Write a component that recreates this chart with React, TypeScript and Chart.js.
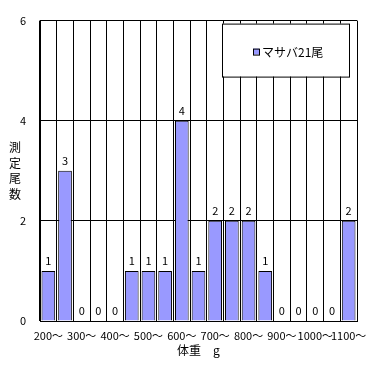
import React, { useEffect, useRef } from 'react';
import { Chart, registerables } from 'chart.js';

Chart.register(...registerables);

const categories = [
  '200～', '250～', '300～', '350～', '400～', '450～', '500～', '550～', '600～', '650～',
  '700～', '750～', '800～', '850～', '900～', '950～', '1000～', '1050～', '1100～',
];
const counts = [1, 3, 0, 0, 0, 1, 1, 1, 4, 1, 2, 2, 2, 1, 0, 0, 0, 0, 2];
const yMin = 0;
const yMax = 6;
const yStep = 2;
const seriesName = 'マサバ21尾';
const xTitle = '体重　g';
const yTitleChars = ['測', '定', '尾', '数'];

const FONT = '"Noto Sans CJK JP", "Noto Sans", sans-serif';

const extrasPlugin = {
  id: 'extras',
  afterDatasetsDraw(chart: any) {
    const ctx = chart.ctx;
    const meta = chart.getDatasetMeta(0);
    ctx.save();
    ctx.font = `11px ${FONT}`;
    ctx.fillStyle = '#000';
    ctx.textAlign = 'center';
    ctx.textBaseline = 'middle';
    meta.data.forEach((bar: any, i: number) => {
      ctx.fillText(String(counts[i]), bar.x, bar.y - 10);
    });
    ctx.restore();
  },
  afterDraw(chart: any) {
    const ctx = chart.ctx;
    const area = chart.chartArea;
    ctx.save();
    // y-axis title, stacked characters
    ctx.font = `12px ${FONT}`;
    ctx.fillStyle = '#000';
    ctx.textAlign = 'center';
    ctx.textBaseline = 'middle';
    const midY = (area.top + area.bottom) / 2;
    const step = 15.7;
    yTitleChars.forEach((c, i) => {
      ctx.fillText(c, 15, midY - 1.5 * step + i * step);
    });
    // legend box
    const lx = area.right - 135;
    const ly = area.top + 3;
    const lw = 127;
    const lh = 53;
    ctx.fillStyle = '#fff';
    ctx.fillRect(lx, ly, lw, lh);
    ctx.strokeStyle = '#000';
    ctx.lineWidth = 1;
    ctx.strokeRect(lx + 0.5, ly + 0.5, lw, lh);
    const sx = lx + 31;
    const sy = ly + 25;
    ctx.fillStyle = '#9999FF';
    ctx.fillRect(sx, sy, 6, 6);
    ctx.strokeRect(sx + 0.5, sy + 0.5, 6, 6);
    ctx.fillStyle = '#000';
    ctx.font = `12px ${FONT}`;
    ctx.textAlign = 'left';
    ctx.fillText(seriesName, sx + 9, sy + 3.5);
    ctx.restore();
  },
};

export default function App() {
  const ref = useRef<HTMLCanvasElement>(null);
  useEffect(() => {
    if (!ref.current) return;
    Chart.defaults.color = '#000';
    const chart = new Chart(ref.current, {
      type: 'bar',
      data: {
        labels: categories,
        datasets: [
          {
            label: seriesName,
            data: counts,
            backgroundColor: '#9999FF',
            borderColor: '#000',
            borderWidth: 1,
            barPercentage: 0.82,
            categoryPercentage: 1,
          },
        ],
      },
      options: {
        responsive: false,
        animation: false,
        maintainAspectRatio: false,
        layout: { padding: { top: 19, right: 18, left: 0, bottom: 0 } },
        plugins: {
          legend: { display: false },
          tooltip: { enabled: false },
        },
        scales: {
          x: {
            offset: true,
            grid: { color: '#000', lineWidth: 1, drawTicks: false, offset: true },
            border: { color: '#000', width: 1 },
            ticks: {
              autoSkip: false,
              maxRotation: 0,
              minRotation: 0,
              padding: 8,
              font: { family: FONT, size: 11 },
              color: '#000',
              callback: (_v: any, i: number) => (i % 2 === 0 ? categories[i] : ''),
            },
            title: {
              display: true,
              text: xTitle,
              font: { family: FONT, size: 12 },
              color: '#000',
              padding: { top: 0, bottom: 8 },
            },
            afterFit: (s: any) => {
              s.height = 45;
            },
          },
          y: {
            min: yMin,
            max: yMax,
            grid: { color: '#000', lineWidth: 1, drawTicks: false },
            border: { color: '#000', width: 1 },
            ticks: {
              stepSize: yStep,
              padding: 14,
              font: { family: FONT, size: 11 },
              color: '#000',
            },
            afterFit: (s: any) => {
              s.width = 40;
            },
          },
        },
      },
      plugins: [extrasPlugin],
    });
    return () => chart.destroy();
  }, []);
  return (
    <div style={{ position: 'fixed', left: 0, top: 0, width: 375, height: 366, background: '#fff' }}>
      <canvas ref={ref} width={375} height={366} style={{ display: 'block' }} />
    </div>
  );
}
